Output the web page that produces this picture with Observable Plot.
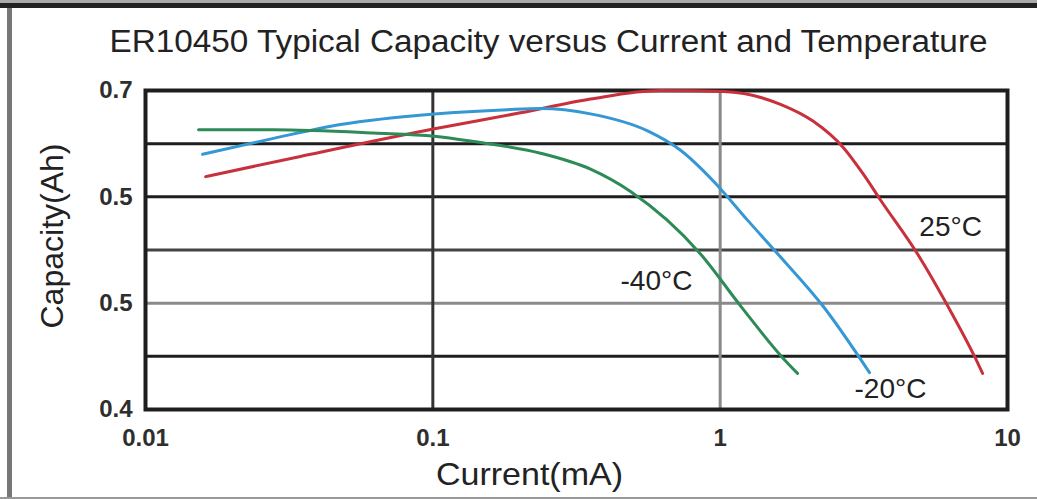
<!DOCTYPE html>
<html><head><meta charset="utf-8">
<script src="https://cdn.jsdelivr.net/npm/d3@7"></script>
<script src="https://cdn.jsdelivr.net/npm/@observablehq/plot@0.6"></script>
<style>
html,body{margin:0;padding:0;background:#fff;}
#wrap{position:relative;width:1037px;height:499px;overflow:hidden;background:#fff;}
#wrap svg{position:absolute;left:0;top:0;}
.b{position:absolute;}
</style></head><body>
<div id="wrap">
  <div class="b" style="left:0;top:0;width:1037px;height:3px;background:#aaa"></div>
  <div class="b" style="left:0;top:3px;width:1037px;height:5px;background:#222"></div>
  <div class="b" style="left:7px;top:8px;width:5px;height:491px;background:#777"></div>
  <div class="b" style="left:0;top:497px;width:1037px;height:2px;background:#999"></div>
</div>
<script>
const title = "ER10450 Typical Capacity versus Current and Temperature";
const xLabel = "Current(mA)";
const yLabel = "Capacity(Ah)";
const xTicks = [0.01, 0.1, 1, 10];
const xTickLabels = ["0.01", "0.1", "1", "10"];
const yTicks = [0.7, 0.6, 0.5, 0.4];
const yTickLabels = ["0.7", "0.5", "0.5", "0.4"];
const xGrid = [0.1, 1];
const yGrid = [0.65, 0.6, 0.55, 0.5, 0.45];

const series = ["25°C", "-20°C", "-40°C"];
const seriesColors = ["#c8303c", "#3597d3", "#2d8b57"];

const current25  = [0.0162, 0.0346, 0.1014, 0.2018, 0.3538, 0.620, 1.028, 1.622, 2.11, 2.69, 3.15, 3.614, 4.87, 6.19, 7.74, 8.19];
const capacity25 = [0.619, 0.638, 0.664, 0.679, 0.692, 0.700, 0.699, 0.687, 0.671, 0.646, 0.6213, 0.597, 0.546, 0.4975, 0.448, 0.434];

const currentM20  = [0.0158, 0.0279, 0.0477, 0.1013, 0.182, 0.237, 0.3538, 0.559, 0.728, 0.948, 1.245, 1.622, 2.289, 3.31];
const capacityM20 = [0.640, 0.655, 0.668, 0.678, 0.682, 0.683, 0.678, 0.662, 0.6438, 0.6147, 0.5781, 0.5434, 0.4966, 0.4347];

const currentM40  = [0.0153, 0.0279, 0.0622, 0.1013, 0.1385, 0.2369, 0.3538, 0.4876, 0.8543, 1.177, 1.661, 1.859];
const capacityM40 = [0.663, 0.663, 0.660, 0.657, 0.652, 0.641, 0.626, 0.605, 0.5463, 0.4975, 0.4478, 0.434];

const labelNames = ["25°C", "-40°C", "-20°C"];
const labelCurrent = [6.34, 0.600, 3.915];
const labelCapacity = [0.572, 0.5204, 0.4188];

const rows = [];
[[series[0], current25, capacity25], [series[1], currentM20, capacityM20], [series[2], currentM40, capacityM40]]
  .forEach(([s, xs, ys]) => xs.forEach((x, i) => rows.push({series: s, current: x, capacity: ys[i]})));
const labels = labelNames.map((n, i) => ({name: n, current: labelCurrent[i], capacity: labelCapacity[i]}));

const font = '"Liberation Sans", Arial, Helvetica, sans-serif';
const chart = Plot.plot({
  width: 1037, height: 499,
  marginLeft: 145, marginRight: 30, marginTop: 90, marginBottom: 90,
  style: {fontFamily: font, background: "transparent", color: "#222"},
  x: {type: "log", domain: [0.01, 10]},
  y: {domain: [0.4, 0.7]},
  color: {type: "identity"},
  marks: [
    Plot.ruleY(yGrid, {stroke: d => d === 0.5 ? "#8a8a8a" : d === 0.55 ? "#444" : "#1e1e1e", strokeWidth: 3}),
    Plot.ruleX(xGrid, {stroke: d => d === 1 ? "#8a8a8a" : "#333", strokeWidth: 3}),
    Plot.frame({stroke: "#1e1e1e", strokeWidth: 4}),
    Plot.line(rows, {x: "current", y: "capacity", z: "series",
      stroke: d => seriesColors[series.indexOf(d.series)], strokeWidth: 3, curve: "monotone-x"}),
    Plot.axisX({ticks: xTicks, tickFormat: d => xTickLabels[xTicks.indexOf(d)], tickSize: 0, tickPadding: 19,
      fontSize: 24, fontWeight: "bold", fill: "#2e2e2e", label: null}),
    Plot.axisY({ticks: yTicks, tickFormat: d => yTickLabels[yTicks.indexOf(d)], tickSize: 0, tickPadding: 13,
      fontSize: 24, fontWeight: "bold", fill: "#2e2e2e", label: null}),
    Plot.text(labels, {x: "current", y: "capacity", text: "name", fontSize: 28, fill: "#222",
      textAnchor: "middle", lineAnchor: "middle"}),
    Plot.text([title], {frameAnchor: "top", dx: -28, dy: -39, textAnchor: "middle", lineAnchor: "bottom", fontSize: 31, fill: "#222"}),
    Plot.text([xLabel], {frameAnchor: "bottom", dx: -47, dy: 75, textAnchor: "middle", lineAnchor: "bottom", fontSize: 32, fill: "#222"}),
    Plot.text([yLabel], {frameAnchor: "left", dx: -83, dy: -14, rotate: -90, textAnchor: "middle", lineAnchor: "bottom", fontSize: 32, fill: "#222"})
  ]
});
document.getElementById("wrap").prepend(chart);
chart.querySelectorAll("text").forEach(t => {
  if (t.textContent === title) { t.setAttribute("textLength", 878); t.setAttribute("lengthAdjust", "spacingAndGlyphs"); }
  if (t.textContent === xLabel) { t.setAttribute("textLength", 187); t.setAttribute("lengthAdjust", "spacingAndGlyphs"); }
  if (t.textContent === yLabel) { t.setAttribute("textLength", 185); t.setAttribute("lengthAdjust", "spacingAndGlyphs"); }
});
</script>
</body></html>
